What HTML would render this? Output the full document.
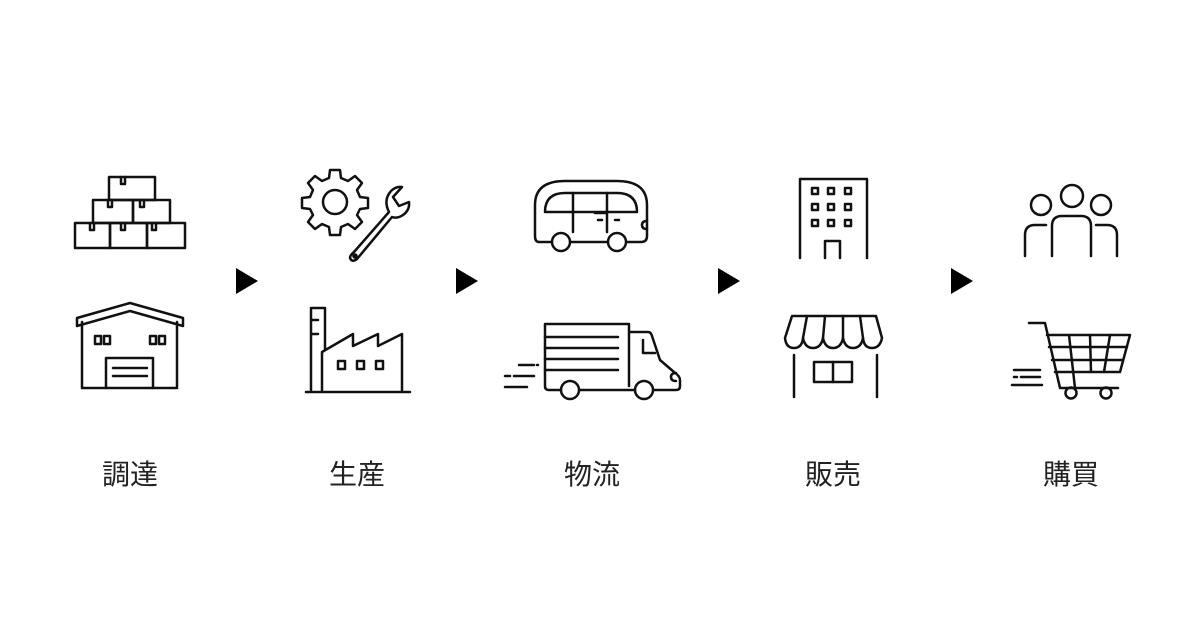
<!DOCTYPE html>
<html><head><meta charset="utf-8"><style>
body{margin:0;background:#fff;width:1200px;height:630px;overflow:hidden}
svg{position:absolute;left:0;top:0}
text{font-family:"Liberation Sans","Noto Sans CJK JP",sans-serif;font-size:28px;fill:#222;stroke:none;font-weight:400}
</style></head><body>
<svg width="1200" height="630" viewBox="0 0 1200 630">
<g fill="none" stroke="#111" stroke-width="2.5" stroke-linejoin="round" stroke-linecap="round">
<!-- boxes -->
<rect x="109" y="177" width="46" height="23"/>
<rect x="93" y="200" width="40" height="23"/><rect x="133" y="200" width="37" height="23"/>
<rect x="75" y="223" width="35" height="25"/><rect x="110" y="223" width="37" height="25"/><rect x="147" y="223" width="38" height="25"/>
<path d="M121 177v7h4v-7M108 200v7h4v-7M140 200v7h4v-7M90 223v7h4v-7M121 223v7h4v-7M152 223v7h4v-7"/>
<!-- warehouse -->
<path d="M77 318 L130 303 L183 318 V326 L130 311 L77 326Z"/>
<path d="M82 322 V388 H177 V322"/>
<rect x="95" y="336" width="6" height="8"/><rect x="104" y="336" width="6" height="8"/>
<rect x="150" y="336" width="6" height="8"/><rect x="159" y="336" width="6" height="8"/>
<path d="M106 388 V358 H153 V388 M113 368 H147 M113 376 H147"/>
<!-- gear -->
<g transform="translate(335,202)">
<path d="M-5 -32 L5 -32 L6 -24 L13 -21 L20 -26 L27 -19 L22 -12 L25 -5 L33 -4 L33 6 L25 7 L22 13 L27 20 L20 27 L13 22 L6 25 L5 33 L-5 33 L-6 25 L-13 22 L-20 27 L-27 20 L-22 13 L-25 7 L-33 6 L-33 -4 L-25 -5 L-22 -12 L-27 -19 L-20 -26 L-13 -21 L-6 -24Z"/>
<circle r="12"/>
</g>
<!-- wrench -->
<path d="M354 252 L389 212 Q383 200 391 191 Q396 186 402 187 L393 197 L399 206 L409 202 Q410 210 403 215 Q397 219 392 217 L357 259 Q352 263 350 258 Q350 255 354 252Z"/>
<circle cx="355" cy="256" r="1.5" fill="#111"/>
<!-- factory -->
<path d="M306 392 H410 M311 390 V308 H325 V350 M311 320 H318 M311 334 H318 M322 390 V352 L353 334 V346 L378 334 V346 L402 334 V390"/>
<rect x="338" y="361" width="7" height="8"/><rect x="357" y="361" width="7" height="8"/><rect x="376" y="361" width="7" height="8"/>
<!-- bus -->
<path d="M551 242 H539 Q535 242 535 236 V205 Q535 181 565 181 H617 Q647 181 647 205 V236 Q647 242 641 242 H627 M570 242 H608"/>
<path d="M545 212 Q545 193 565 193 H617 Q637 193 637 212 Z"/>
<path d="M573 193 V232 M607 193 V232 M595 213 H606 M615 220 H619 M598 220 H602"/>
<path d="M647 221 Q642 221 642 225 Q642 229 647 229"/>
<circle cx="561" cy="242" r="9"/><circle cx="617" cy="242" r="9"/>
<!-- truck -->
<path d="M561 390 H549 Q545 390 545 386 V324 H629 V386 M580 390 H635 M629 332 H648 Q651 332 652 336 L660 360 L674 372 Q680 376 680 380 V386 Q680 390 676 390 H654"/>
<path d="M545 337 H618 M545 348 H618 M545 359 H618 M545 370 H618 M643 340 V353 H655 M676 373 Q671 373 671 377 Q671 381 676 381"/>
<circle cx="570" cy="390" r="9"/><circle cx="644" cy="390" r="9"/>
<path d="M519 365 H534 M537 365 H538 M505 376 H510 M514 376 H534 M505 387 H527"/>
<!-- building -->
<path d="M800 258 V179 H867 V258 M825 258 V241 H840 V258"/>
<rect x="812" y="188" width="6" height="6"/><rect x="828" y="188" width="6" height="6"/><rect x="845" y="188" width="6" height="6"/>
<rect x="812" y="204" width="6" height="6"/><rect x="828" y="204" width="6" height="6"/><rect x="845" y="204" width="6" height="6"/>
<rect x="812" y="220" width="6" height="6"/><rect x="828" y="220" width="6" height="6"/><rect x="845" y="220" width="6" height="6"/>
<!-- shop -->
<path d="M792 316 H876 L882 338 Q880 348 872 348 Q864 348 863 338 Q861 348 853 348 Q845 348 843 338 Q841 348 833 348 Q825 348 823 338 Q821 348 813 348 Q805 348 803 338 Q802 348 794 348 Q786 348 785 338 Z"/>
<path d="M803 338 L807 316 M823 338 L825 316 M843 338 L843 316 M863 338 L860 316"/>
<path d="M794 355 V397 M877 355 V397"/>
<rect x="814" y="362" width="38" height="20"/><path d="M833 362 V382"/>
<!-- people -->
<circle cx="1072" cy="196" r="11"/><circle cx="1041" cy="205" r="10"/><circle cx="1101" cy="205" r="10"/>
<path d="M1052 256 V226 Q1052 216 1062 216 H1081 Q1091 216 1091 226 V256"/>
<path d="M1025 256 V235 Q1025 225 1035 225 H1046 M1117 256 V235 Q1117 225 1107 225 H1096"/>
<!-- cart -->
<path d="M1029 323 H1045 L1060 388 H1118 M1047 335 H1130 L1120 372 H1055"/>
<path d="M1049 347 H1127 M1052 360 H1123 M1069 335 L1075 388 M1090 335 L1091 372 M1110 335 L1104 372"/>
<circle cx="1071" cy="393" r="5.5"/><circle cx="1106" cy="393" r="5.5"/>
<path d="M1014 370 H1040 M1014 377 H1017 M1021 377 H1040 M1012 385 H1042"/>
</g>
<g fill="#000" stroke="none">
<path d="M236 268 L258 281 L236 294Z"/>
<path d="M456 268 L478 281 L456 294Z"/>
<path d="M718 268 L740 281 L718 294Z"/>
<path d="M951 268 L973 281 L951 294Z"/>
</g>
<g text-anchor="middle">
<text x="130" y="484">調達</text>
<text x="357" y="484">生産</text>
<text x="592" y="484">物流</text>
<text x="833" y="484">販売</text>
<text x="1071" y="484">購買</text>
</g>
</svg>
</body></html>
